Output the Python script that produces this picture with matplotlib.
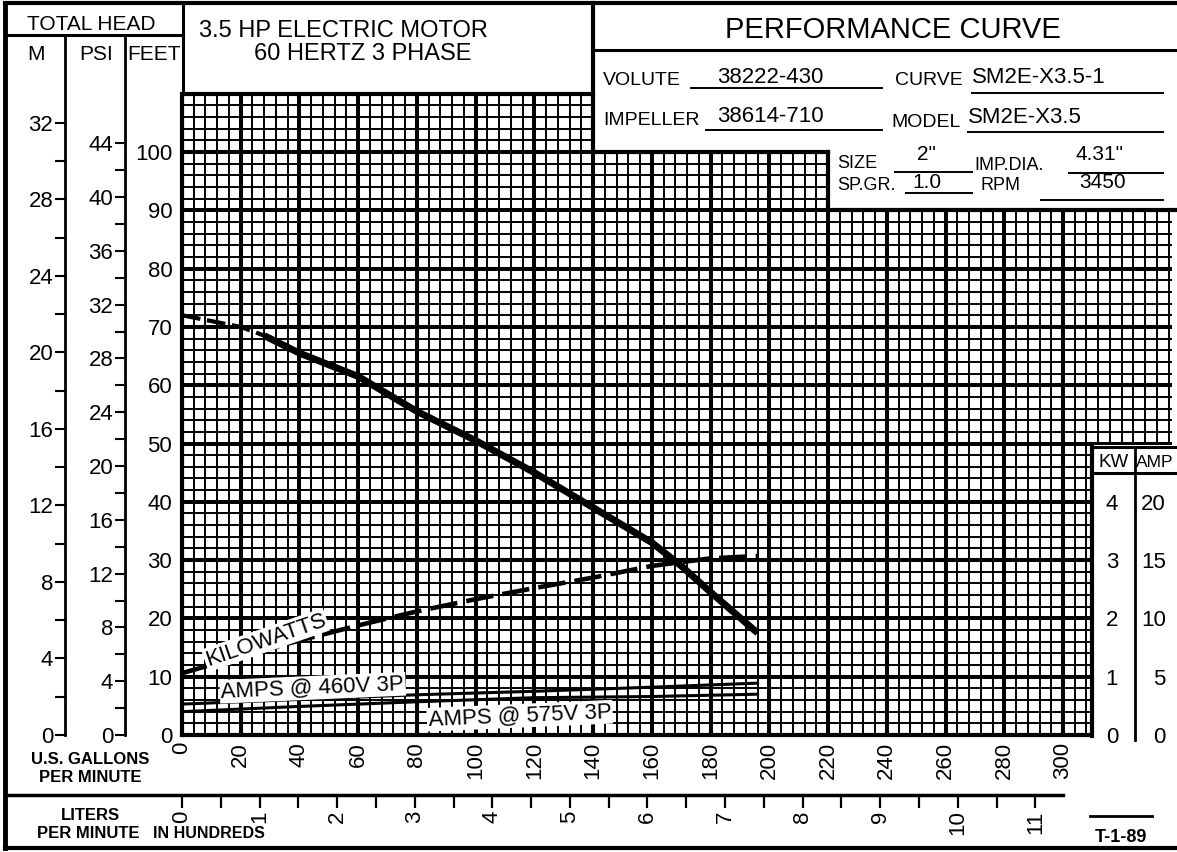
import numpy as np
import matplotlib
matplotlib.use("Agg")
import matplotlib.pyplot as plt
from matplotlib.lines import Line2D
from matplotlib.patches import Rectangle

plt.rcParams['font.family'] = ['Liberation Sans', 'DejaVu Sans']

# --- curve data (flow in US gpm) ---
head_gpm = [0, 10, 20, 28, 40, 60, 80, 100, 120, 140, 160, 170, 180, 196]
head_ft = [72, 71, 70, 68.5, 65.5, 61.5, 55.5, 50.5, 45, 39, 33, 29, 24.5, 17.5]
kw_gpm = [0, 20, 40, 60, 80, 100, 120, 140, 160, 180, 196]
kw = [1.06, 1.35, 1.62, 1.88, 2.12, 2.33, 2.52, 2.70, 2.90, 3.03, 3.07]
amp_gpm = [0, 40, 80, 120, 160, 196]
amps_460 = [2.65, 3.05, 3.45, 3.75, 4.1, 4.45]
amps_575 = [2.0, 2.45, 2.85, 3.2, 3.3, 3.5]

gpm_ticks = list(range(0, 301, 20))
ft_ticks = list(range(0, 101, 10))
m_ticks = list(range(0, 33, 4))
psi_ticks = list(range(0, 45, 4))
kw_ticks = [0, 1, 2, 3, 4]
amp_ticks = [0, 5, 10, 15, 20]
lpm_ticks = list(range(0, 12))

# unit conversions
FT_PER_M = 3.28084
FT_PER_PSI = 2.30667
L_PER_GAL = 3.78541
FT_PER_KW = 10.0
FT_PER_AMP = 2.0

# --- layout in pixels of the 1177x852 sheet ---
W, H = 1177, 852
GX0, GX1 = 182, 1172          # grid left / right
GY0 = 735                     # grid bottom (0 ft)
PX_PER_GPM = 881 / 300
PX_PER_FT = 5.83
Y_MAX = 110
GY1 = GY0 - Y_MAX * PX_PER_FT
X_MAX = (GX1 - GX0) / PX_PER_GPM

fig = plt.figure(figsize=(W / 100, H / 100), dpi=100)


def fx(x):
    return x / W


def fy(y):
    return 1 - y / H


def rect(x0, ytop, x1, ybot):
    return [fx(x0), fy(ybot), (x1 - x0) / W, (ybot - ytop) / H]


def hl(y, x0, x1, lw=2.2):
    fig.add_artist(Line2D([fx(x0), fx(x1)], [fy(y), fy(y)], color='k', lw=lw, zorder=2))


def vl(x, y0, y1, lw=2.2):
    fig.add_artist(Line2D([fx(x), fx(x)], [fy(y0), fy(y1)], color='k', lw=lw, zorder=2))


def txt(x, y, s, size=14, ha='left', va='baseline', **kw_):
    fig.text(fx(x), fy(y), s, fontsize=size, ha=ha, va=va, zorder=3, **kw_)


# --- main grid ---
ax = fig.add_axes(rect(GX0, GY1, GX1, GY0))
ax.set_xlim(0, X_MAX)
ax.set_ylim(0, Y_MAX)
ax.set_xticks(gpm_ticks)
ax.set_xticks(np.arange(0, X_MAX, 4), minor=True)
ax.set_yticks(ft_ticks)
ax.set_yticks(np.arange(0, Y_MAX + 0.1, 2), minor=True)
ax.grid(which='minor', color='k', lw=1.4)
ax.grid(which='major', color='k', lw=2.9)
ax.tick_params(which='both', length=0)
ax.tick_params(axis='x', labelrotation=90, labelsize=16, pad=5)
ax.tick_params(axis='y', labelsize=16, pad=7)
for s in ['top', 'right']:
    ax.spines[s].set_visible(False)
for s in ['left', 'bottom']:
    ax.spines[s].set_linewidth(3)

# head curve (dashed at shut-off end)
ax.plot(head_gpm[:4], head_ft[:4], color='k', lw=3, ls=(0, (4.5, 1.6)), zorder=4)
ax.plot(head_gpm[3:], head_ft[3:], color='k', lw=5, solid_capstyle='butt', zorder=4)

# kilowatt and amp curves on their own scales
ax_kw = ax.twinx()
ax_kw.set_ylim(0, Y_MAX / FT_PER_KW)
ax_kw.axis('off')
ax_kw.plot(kw_gpm, kw, color='k', lw=3.3, ls=(0, (6, 2)))

ax_a = ax.twinx()
ax_a.set_ylim(0, Y_MAX / FT_PER_AMP)
ax_a.axis('off')
ax_a.plot(amp_gpm, amps_460, color='k', lw=2.2)
ax_a.plot(amp_gpm, amps_575, color='k', lw=2.2)

lab = dict(fontsize=16, ha='center', va='center', rotation_mode='anchor',
           transform=ax.transData, zorder=6,
           bbox=dict(fc='white', ec='none', pad=1.0))
ax_a.text(28.5, 16.3, 'KILOWATTS', rotation=19, **lab)
ax_a.text(44.5, 8.1, 'AMPS @ 460V 3P', rotation=2.5, **lab)
ax_a.text(115, 3.3, 'AMPS @ 575V 3P', rotation=2.5, **lab)

# white areas where the title blocks cut into the grid
for x0, yt, x1, yb in [(593, 0, W, 152), (828, 0, W, 210), (1092, 445, W, 738)]:
    fig.add_artist(Rectangle((fx(x0), fy(yb)), (x1 - x0) / W, (yb - yt) / H,
                             fc='white', ec='none', zorder=1))

# --- left scales: metres and psi ---
for xpos, conv, ticks in [(65, FT_PER_M, m_ticks), (125, FT_PER_PSI, psi_ticks)]:
    a = fig.add_axes(rect(xpos, 35, xpos + 0.2, GY0))
    a.set_ylim(0, (GY0 - 35) / PX_PER_FT / conv)
    a.set_yticks(ticks)
    a.set_yticks(np.arange(2, ticks[-1], 4), minor=True)
    a.set_xticks([])
    a.tick_params(which='both', direction='out', length=7.5, width=1.5,
                  labelsize=16, pad=1)
    for s in ['top', 'right', 'bottom']:
        a.spines[s].set_visible(False)
    a.spines['left'].set_linewidth(2)
    a.patch.set_visible(False)

# --- right scales: KW and AMP labels ---
for xpos, conv, ticks, pad in [(1121, FT_PER_KW, kw_ticks, 2), (1170, FT_PER_AMP, amp_ticks, 3)]:
    a = fig.add_axes(rect(xpos, GY1, xpos + 0.2, GY0))
    a.set_ylim(0, Y_MAX / conv)
    a.set_yticks(ticks)
    a.set_xticks([])
    a.tick_params(length=0, labelsize=16, pad=pad)
    for s in a.spines.values():
        s.set_visible(False)
    a.patch.set_visible(False)
    a.set_zorder(3)

# --- litres per minute scale ---
al = fig.add_axes(rect(GX0, 794.9, GX1, 795))
al.set_xlim(0, X_MAX * L_PER_GAL / 100)
al.set_xticks(lpm_ticks)
al.set_xticks(np.arange(0.5, 11, 1.0), minor=True)
al.set_yticks([])
al.tick_params(which='both', direction='out', length=9, width=1.6)
al.tick_params(axis='x', labelrotation=90, labelsize=16, pad=2)
for s in al.spines.values():
    s.set_visible(False)
al.patch.set_visible(False)

# --- frame and title block lines ---
hl(3, 5, W, 3)
vl(5, 3, 848, 3.5)
hl(848, 5, W, 3)
hl(35, 5, 183)
vl(183, 3, GY1)
hl(GY1, 183, 593, 3)
vl(593, 3, 152, 3)
hl(50, 593, W)
hl(152, 593, 828, 3)
vl(828, 152, 210, 3)
hl(210, 828, W, 3)
vl(1092, 447, GY0 + 1, 3)
hl(447, 1092, W)
hl(473, 1092, W)
vl(1135, 447, 740, 2)
hl(795, 5, 1063, 2.5)
hl(816, 1090, 1152, 2)

# underlines of the data fields
for y, x0, x1 in [(88, 691, 882), (93, 972, 1163), (130, 706, 882), (132, 968, 1163),
                  (172, 895, 972), (173, 1069, 1163), (193, 906, 972), (200, 1041, 1163)]:
    hl(y, x0, x1, 1.4)

# --- header texts ---
txt(91, 30, 'TOTAL HEAD', 15, ha='center')
txt(36, 60, 'M', 15, ha='center')
txt(96, 60, 'PSI', 15, ha='center')
txt(154, 60, 'FEET', 15, ha='center')
txt(199, 37, '3.5 HP ELECTRIC MOTOR', 17)
txt(254, 60, '60 HERTZ 3 PHASE', 17)
txt(893, 38, 'PERFORMANCE CURVE', 21, ha='center')

txt(603, 85, 'VOLUTE', 14)
txt(770, 83, '38222-430', 16, ha='center')
txt(895, 85, 'CURVE', 14)
txt(972, 83, 'SM2E-X3.5-1', 16)
txt(603, 125, 'IMPELLER', 14)
txt(770, 122, '38614-710', 16, ha='center')
txt(891, 127, 'MODEL', 14)
txt(968, 123, 'SM2E-X3.5', 16)
txt(837, 168, 'SIZE', 13)
txt(926, 160, '2"', 15, ha='center')
txt(974, 170, 'IMP.DIA.', 13)
txt(1099, 160, '4.31"', 15, ha='center')
txt(837, 190, 'SP.GR.', 13)
txt(927, 188, '1.0', 15, ha='center')
txt(981, 190, 'RPM', 13)
txt(1103, 188, '3450', 15, ha='center')

txt(1114, 467, 'KW', 13.5, ha='center')
txt(1155, 467, 'AMP', 12.5, ha='center')

txt(90, 760, 'U.S. GALLONS', 12, ha='center', va='center', weight='bold')
txt(90, 778, 'PER MINUTE', 12, ha='center', va='center', weight='bold')
txt(90, 815, 'LITERS', 12, ha='center', va='center', weight='bold')
txt(88, 833, 'PER MINUTE', 12, ha='center', va='center', weight='bold')
txt(153, 833, 'IN HUNDREDS', 11.5, va='center', weight='bold')
txt(1121, 838, 'T-1-89', 13, ha='center', va='center', weight='bold')

fig.savefig('out.png', dpi=100, facecolor='white')
